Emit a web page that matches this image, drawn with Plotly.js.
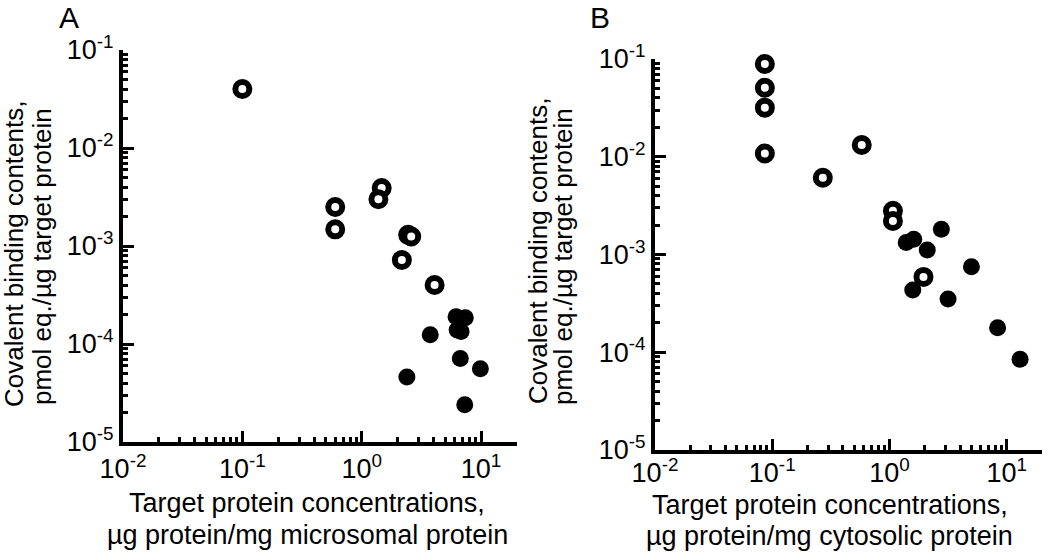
<!DOCTYPE html>
<html><head><meta charset="utf-8">
<script src="https://cdn.plot.ly/plotly-3.0.1.min.js"></script>
<style>html,body{margin:0;padding:0;background:#fff}#chart{width:1050px;height:552px}</style>
</head><body><div id="chart"></div>
<script>
// Panel A (microsomal)
const aOpenX = [0.1, 0.6, 0.6, 1.47, 1.38, 2.45, 2.6, 2.17, 4.08];
const aOpenY = [0.04, 0.0025, 0.00148, 0.0039, 0.003, 0.0013, 0.00125, 0.00072, 0.0004];
const aFilledX = [6.17, 7.38, 6.3, 6.8, 3.75, 6.7, 9.87, 2.39, 7.3];
const aFilledY = [0.00019, 0.000185, 0.000139, 0.000134, 0.000124, 7.1e-5, 5.6e-5, 4.6e-5, 2.4e-5];
// Panel B (cytosolic)
const bOpenX = [0.0865, 0.0865, 0.0865, 0.0865, 0.27, 0.58, 1.07, 1.07, 1.95];
const bOpenY = [0.089, 0.0508, 0.0318, 0.0108, 0.0061, 0.0132, 0.0028, 0.0022, 0.00059];
const bFilledX = [1.39, 1.61, 2.1, 2.77, 5.0, 1.58, 3.16, 8.36, 13.0];
const bFilledY = [0.00133, 0.00143, 0.00111, 0.00181, 0.00075, 0.000434, 0.00035, 0.000178, 8.5e-5];
// Tick labels
const xTickVals = [0.01, 0.1, 1, 10];
const xTickText = ['10<sup>-2</sup>', '10<sup>-1</sup>', '10<sup>0</sup>', '10<sup>1</sup>'];
const yTickVals = [1e-5, 1e-4, 1e-3, 1e-2, 1e-1];
const yTickText = ['10<sup>-5</sup>', '10<sup>-4</sup>', '10<sup>-3</sup>', '10<sup>-2</sup>', '10<sup>-1</sup>'];

function minorVals(lo, hi) {
  const out = [];
  for (let d = lo; d < hi; d++) for (let k = 2; k <= 9; k++) out.push(k * Math.pow(10, d));
  return out;
}
const xMinor = minorVals(-2, 2).filter(v => v <= 20.0001);
const yMinor = minorVals(-5, -1);

const FONT = 'Liberation Sans, Arial, sans-serif';
const openM = {symbol: 'circle', size: 14, color: '#ffffff', line: {color: '#000', width: 6}};
const fillM = {symbol: 'circle', size: 17, color: '#000', line: {width: 0}};

const data = [
  {x: aFilledX, y: aFilledY, type: 'scatter', mode: 'markers', marker: fillM, xaxis: 'x', yaxis: 'y', cliponaxis: false},
  {x: aOpenX, y: aOpenY, type: 'scatter', mode: 'markers', marker: openM, xaxis: 'x', yaxis: 'y', cliponaxis: false},
  {x: bFilledX, y: bFilledY, type: 'scatter', mode: 'markers', marker: fillM, xaxis: 'x2', yaxis: 'y2', cliponaxis: false},
  {x: bOpenX, y: bOpenY, type: 'scatter', mode: 'markers', marker: openM, xaxis: 'x2', yaxis: 'y2', cliponaxis: false}
];

function xax(domain, anchor, standoff) {
  return {domain: domain, anchor: anchor, type: 'log', range: [-2, Math.log10(20)],
    showline: true, linecolor: '#000', linewidth: 4, mirror: false,
    ticks: 'inside', ticklen: 11, tickwidth: 3, tickcolor: '#000',
    tickmode: 'array', tickvals: xTickVals, ticktext: xTickText, ticklabelstandoff: standoff,
    tickfont: {family: FONT, size: 27, color: '#000'},
    minor: {tickmode: 'array', tickvals: xMinor, ticks: 'inside', ticklen: 5, tickwidth: 3, tickcolor: '#000', showgrid: false},
    showgrid: false, zeroline: false, fixedrange: true};
}
function yax(domain, anchor) {
  return {domain: domain, anchor: anchor, type: 'log', range: [-5, -1],
    showline: true, linecolor: '#000', linewidth: 4, mirror: false,
    ticks: 'inside', ticklen: 11, tickwidth: 3, tickcolor: '#000',
    tickmode: 'array', tickvals: yTickVals, ticktext: yTickText,
    tickfont: {family: FONT, size: 27, color: '#000'},
    minor: {tickmode: 'array', tickvals: yMinor, ticks: 'inside', ticklen: 5, tickwidth: 3, tickcolor: '#000', showgrid: false},
    showgrid: false, zeroline: false, fixedrange: true};
}

const W = 1050, H = 552;
const px = v => v / W, py = v => 1 - v / H;
function ann(text, x, y, size, angle) {
  return {text: text, xref: 'paper', yref: 'paper', x: px(x), y: py(y), xanchor: 'center', yanchor: 'middle',
    showarrow: false, borderpad: 0, textangle: angle || 0, font: {family: FONT, size: size, color: '#000'}};
}

const layout = {
  width: W, height: H, margin: {l: 0, r: 0, t: 0, b: 0},
  paper_bgcolor: '#fff', plot_bgcolor: '#fff', showlegend: false,
  xaxis: xax([px(123), px(517)], 'y', 0),
  yaxis: yax([py(442), py(50)], 'x'),
  xaxis2: xax([px(655), px(1042)], 'y2', -4),
  yaxis2: yax([py(450), py(59)], 'x2'),
  annotations: [
    ann('A', 69, 17, 30),
    ann('B', 600, 17, 30),
    ann('Covalent binding contents,', 14, 254, 26, -90),
    ann('pmol eq./µg target protein', 42, 257, 26, -90),
    ann('Covalent binding contents,', 538, 251, 26, -90),
    ann('pmol eq./µg target protein', 563, 257, 26, -90),
    ann('Target protein concentrations,', 307, 503, 27),
    ann('µg protein/mg microsomal protein', 307, 535, 27),
    ann('Target protein concentrations,', 830, 505, 27),
    ann('µg protein/mg cytosolic protein', 829, 536, 27)
  ]
};

Plotly.newPlot('chart', data, layout, {displayModeBar: false, staticPlot: true});
</script>
</body></html>
